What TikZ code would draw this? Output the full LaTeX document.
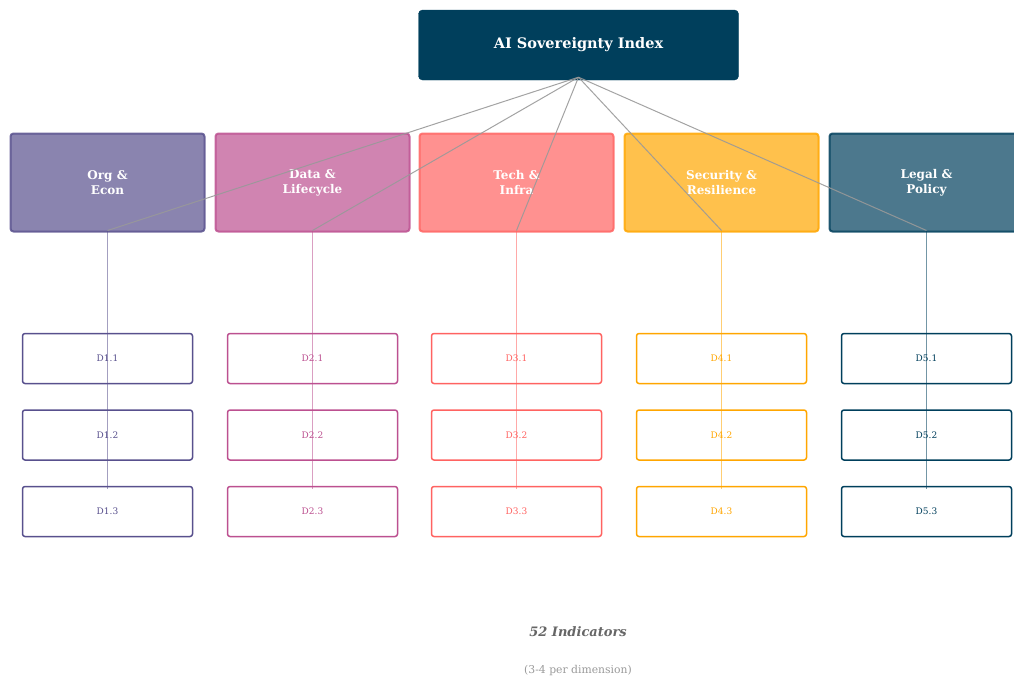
\documentclass[tikz,border=0pt]{standalone}
\usepackage{fontspec}
\setmainfont{DejaVu Serif}
\begin{document}
\begin{tikzpicture}[x=1pt,y=-1pt,
  topbox/.style={fill=cA,draw=cA,rounded corners=4pt,minimum width=320pt,minimum height=70pt,inner sep=0pt,text=white,font=\bfseries\fontsize{14.5}{18}\selectfont},
  dimbox/.style={fill=#1,fill opacity=0.7,draw=#1,draw opacity=0.85,line width=2pt,rounded corners=3pt,minimum width=194pt,minimum height=98pt,inner sep=0pt,text=white,text opacity=1,align=center,font=\bfseries\fontsize{12}{15}\selectfont},
  indbox/.style={fill=white,draw=#1,line width=1.5pt,rounded corners=2.5pt,minimum width=170pt,minimum height=50pt,inner sep=0pt,text=#1,font=\fontsize{9}{10}\selectfont},
  spoke/.style={draw=black!40,line width=1pt,opacity=0.9},
  stem/.style={draw=#1,line width=0.9pt,opacity=0.55}]
\definecolor{cA}{HTML}{003F5C}
\definecolor{cB}{HTML}{58508D}
\definecolor{cC}{HTML}{BC5090}
\definecolor{cD}{HTML}{FF6361}
\definecolor{cE}{HTML}{FFA600}
\useasboundingbox (0,0) rectangle (1014,678);
\clip (0,0) rectangle (1014,678);
\node[topbox] (top) at (578.5,45) {AI Sovereignty Index};
\node[dimbox=cB] (d1) at (107.5,182.5) {Org \&\\Econ};
\node[dimbox=cC] (d2) at (312.5,182.5) {Data \&\\Lifecycle};
\node[dimbox=cD] (d3) at (516.5,182.5) {Tech \&\\Infra};
\node[dimbox=cE] (d4) at (721.5,182.5) {Security \&\\Resilience};
\node[dimbox=cA] (d5) at (926.5,182.5) {Legal \&\\Policy};
\foreach \i/\c/\x in {1/cB/107.5,2/cC/312.5,3/cD/516.5,4/cE/721.5,5/cA/926.5}{
  \node[indbox=\c] (i\i1) at (\x,358.5) {D\i.1};
  \node[indbox=\c] (i\i2) at (\x,435) {D\i.2};
  \node[indbox=\c] (i\i3) at (\x,511.5) {D\i.3};
}
\coordinate (hub) at ([yshift=3pt]top.south);
\foreach \i in {1,...,5}{
  \draw[spoke] (hub) -- ([yshift=2pt]d\i.south);
}
\foreach \i/\c in {1/cB,2/cC,3/cD,4/cE,5/cA}{
  \draw[stem=\c] ([yshift=2pt]d\i.south) -- ([yshift=-3pt]i\i3.north);
}
\node[text=black!60,font=\bfseries\itshape\fontsize{13}{15}\selectfont] (tot) at (578,632) {52 Indicators};
\node[text=black!40,font=\fontsize{10.8}{12}\selectfont] (sub) at (578,671) {(3-4 per dimension)};
\end{tikzpicture}
\end{document}
